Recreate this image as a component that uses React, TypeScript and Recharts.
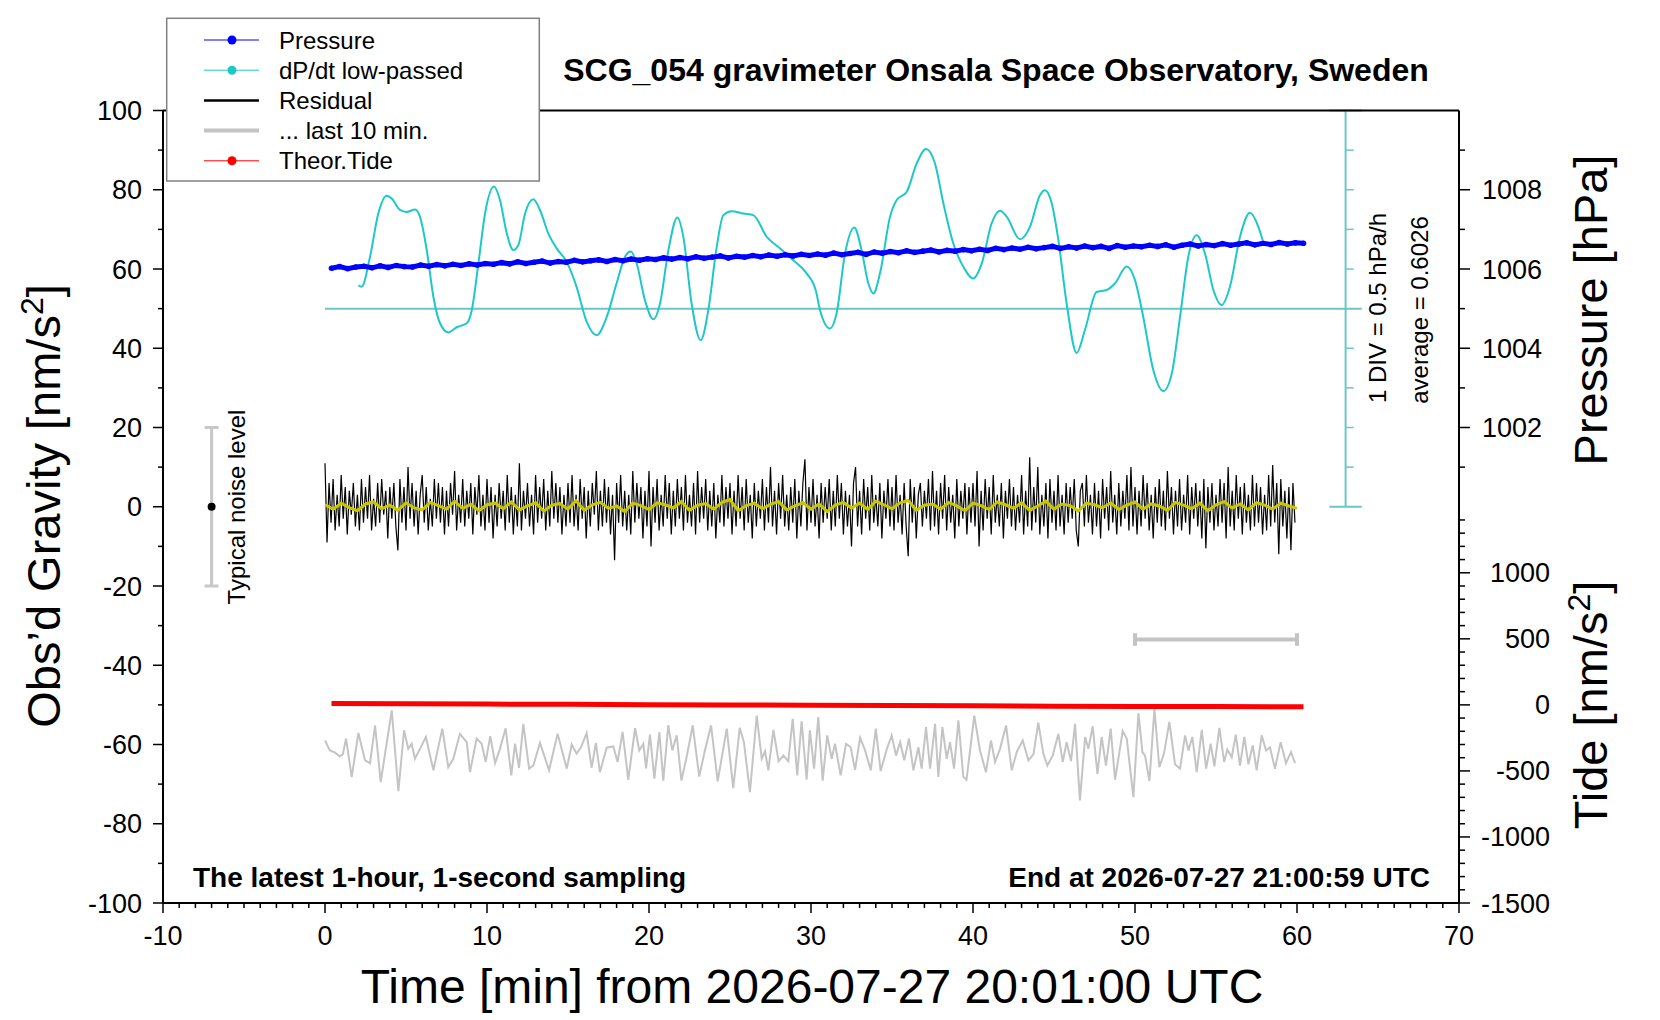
import React from 'react';
import { ComposedChart, Line, XAxis, YAxis, ReferenceLine, ReferenceDot } from 'recharts';

const FONT = '"Liberation Sans", Arial, Helvetica, sans-serif';

// ---------- axis ticks ----------
const xTicks = Array.from({ length: 81 }, (_, i) => i - 10); // every minute, -10..70
const gravityTicks = Array.from({ length: 21 }, (_, i) => -100 + i * 10);
const pressureMajorTicks = [1002, 1004, 1006, 1008];
const pressureMinorTicks = [1001, 1003, 1005, 1007, 1009];
const tideMajorTicks = [-1500, -1000, -500, 0, 500, 1000];
const tideMinorTicks = Array.from({ length: 30 }, (_, i) => -1400 + i * 100).filter((v) => v % 500 !== 0);

// right axis scales mapped onto the gravity axis
const pToG = (p: number) => (p - 1006) * 10 + 60;
const tideToG = (t: number) => -50 + t / 30;

// ---------- series ----------
// Pressure [hPa], every 0.5 min from 0.4 min
const pressureT0 = 0.4;
const pressureHpa = [
  1006.02, 1006.06, 1006.01, 1006.05, 1006.07, 1006.03, 1006.08, 1006.04, 1006.09, 1006.06, 1006.05, 1006.1, 1006.07, 1006.11, 1006.08, 1006.12, 1006.09, 1006.13, 1006.1, 1006.14,
  1006.12, 1006.16, 1006.13, 1006.18, 1006.14, 1006.17, 1006.2, 1006.15, 1006.19, 1006.17, 1006.22, 1006.18, 1006.21, 1006.23, 1006.19, 1006.24, 1006.21, 1006.25, 1006.22, 1006.26,
  1006.24, 1006.28, 1006.25, 1006.29, 1006.26, 1006.31, 1006.27, 1006.3, 1006.33, 1006.28, 1006.32, 1006.3, 1006.34, 1006.31, 1006.35, 1006.32, 1006.36, 1006.33, 1006.37, 1006.34,
  1006.38, 1006.35, 1006.4, 1006.36, 1006.39, 1006.42, 1006.37, 1006.43, 1006.4, 1006.44, 1006.41, 1006.46, 1006.42, 1006.45, 1006.48, 1006.43, 1006.47, 1006.45, 1006.49, 1006.46,
  1006.5, 1006.47, 1006.52, 1006.49, 1006.53, 1006.5, 1006.55, 1006.51, 1006.54, 1006.57, 1006.52, 1006.56, 1006.53, 1006.58, 1006.54, 1006.57, 1006.52, 1006.59, 1006.55, 1006.58,
  1006.56, 1006.6, 1006.57, 1006.61, 1006.55, 1006.6, 1006.63, 1006.58, 1006.62, 1006.59, 1006.64, 1006.6, 1006.63, 1006.66, 1006.61, 1006.65, 1006.62, 1006.67, 1006.63, 1006.66,
  1006.65,
];

// dP/dt low-passed, drawn in gravity units (baseline 50 = average)
const dpdtTime = [
  2.06, 2.26, 2.78, 3.29, 3.81, 4.12, 4.63, 5.04, 5.56, 5.86, 6.28, 6.69, 7.1, 7.61, 8.13, 8.75, 9.06, 9.47, 9.88, 10.43,
  10.8, 11.22, 11.62, 11.93, 12.35, 12.86, 13.27, 13.78, 14.3, 14.92, 15.53, 16.15, 16.77, 17.39, 18.0, 18.52, 18.87, 19.24, 19.75, 20.27,
  20.68, 21.2, 21.75, 22.12, 22.63, 23.19, 23.66, 24.18, 24.59, 25.1, 25.82, 26.44, 27.27, 28.09, 28.91, 29.73, 30.3, 30.56, 31.17, 31.58,
  32.1, 32.67, 33.12, 33.54, 33.85, 34.26, 34.88, 35.29, 35.91, 36.53, 37.1, 37.65, 38.17, 38.78, 39.4, 40.02, 40.54, 41.15, 41.67, 42.08,
  42.9, 43.52, 44.14, 44.44, 44.86, 45.27, 45.78, 46.4, 46.91, 47.63, 48.25, 48.77, 49.49, 50.0, 50.51, 51.13, 51.75, 52.27, 52.78, 53.29,
  53.81, 54.32, 54.84, 55.35, 55.86, 56.48, 57.1, 57.61, 57.88,
];
const dpdtValue = [
  55.9, 55.5, 63.1, 74.0, 78.5, 77.8, 74.9, 74.4, 75.0, 73.2, 64.8, 53.0, 46.3, 44.0, 45.3, 46.3, 49.6, 61.4, 74.0, 80.8,
  77.4, 69.0, 64.8, 66.0, 74.0, 77.6, 74.9, 69.0, 65.2, 61.8, 55.5, 46.7, 43.3, 47.9, 56.4, 63.1, 64.4, 61.4, 52.1, 47.3,
  51.3, 64.8, 73.0, 68.1, 51.3, 42.0, 49.6, 65.6, 73.6, 74.6, 74.0, 73.6, 68.1, 65.2, 62.2, 58.9, 54.5, 49.6, 45.0, 48.8,
  63.9, 70.5, 64.8, 56.4, 53.8, 58.9, 73.2, 77.4, 79.5, 86.7, 90.3, 86.7, 76.6, 66.5, 60.6, 57.6, 61.4, 71.5, 74.7, 73.2,
  67.5, 70.7, 78.7, 79.9, 76.6, 67.3, 51.3, 38.8, 44.6, 54.2, 54.7, 56.4, 60.6, 57.2, 47.9, 34.5, 29.2, 33.6, 47.9, 63.1,
  68.5, 63.9, 54.7, 50.9, 55.5, 68.1, 74.2, 70.7, 67.3,
];

// Residual [nm/s^2], 8 samples per minute from 0
const residualStep = 0.125;
const residual = [
  11, -9, 6, -4, 7, -6, 3, -5, 8, -3, 5, -7, 4, -2, 6, -5, 3, -6, 7, -4,
  5, -3, 8, -6, 2, -5, 6, -4, 7, -2, 4, -8, 5, -3, 6, -5, -11, 7, -4, 5,
  -6, 10, -3, 6, -5, 4, -7, 3, 8, -4, 5, -6, 2, -5, 7, -3, 6, -4, 5, -7,
  4, -5, 6, -2, 9, -6, 3, -4, 7, -5, 4, -3, 6, -7, 5, -2, 8, -5, 3, -6,
  7, -4, 5, -8, 3, -5, 6, -3, 4, -6, 8, -4, 5, -7, 3, -5, 11, -6, 4, -3,
  6, -5, 3, -7, 8, -4, 5, -3, 7, -6, 4, -5, 9, -3, 6, -4, 5, -7, 3, -5,
  6, -4, 8, -5, 3, -6, 7, -3, 5, -8, 4, -5, 6, -2, 9, -6, 4, -5, 7, -4,
  5, -7, 3, -13.5, 6, -4, 8, -5, 4, -6, 3, -7, 9, -4, 6, -3, 5, -8, 4, -5,
  9, -10, 5, -4, 7, -6, 3, -5, 8, -3, 6, -7, 4, -5, 7, -3, 5, -6, 8, -4,
  3, -5, 6, -7, 9, -4, 5, -3, 7, -6, 4, -5, 6, -8, 3, -4, 8, -5, 5, -3,
  6, -7, 4, -5, 8, -3, 5, -6, 7, -4, 3, -8, 6, -5, 4, -3, 7, -6, 5, -4,
  10, -5, 4, -7, 6, -3, 8, -5, 3, -6, 5, -4, 7, -8, 4, -5, 6, 12, -6, 5,
  -4, 7, -5, 3, -8, 6, -4, 5, -3, 7, -6, 4, -5, 8, -3, 6, -7, 4, -5, 3,
  -10, 6, 10, -5, 4, -7, 7, -3, 5, -6, 8, -4, 3, -5, 6, -8, 4, -3, 7, -5,
  5, -6, 8, -4, 3, -7, 6, -5, -12.5, 7, -4, 5, -8, 3, 6, -5, 4, -3, 7, -6,
  9, -5, 4, -7, 6, -3, 8, -6, 5, -4, 3, -8, 7, -5, 4, -3, 6, -7, 5, -4,
  6, -5, 9, -10, 4, -6, 7, -3, 5, -7, 8, -4, 3, -5, 6, -8, 4, -3, 7, -5,
  5, -6, 3, -4, 8, -7, 4, -5, 12.5, -6, 5, -4, 10, -7, 3, -5, 6, -8, 7, -4,
  4, -6, 8, -5, 3, -7, 6, -4, 5, -3, 7, -6, -10, 4, 6, -5, 8, -4, 3, -7,
  6, -5, 4, -8, 7, -3, 5, -6, 9, -4, 3, -7, 6, -5, 4, -3, 8, -6, 10, -5,
  5, -7, 4, -5, 8, -3, 6, -6, 3, -8, 5, -4, 7, -5, 4, -6, 9, -3, 5, -7,
  4, -5, 7, -6, 3, -4, 8, -7, 5, -3, 6, -5, 4, -8, 7, -10.5, 5, -4, 6, -6,
  3, -5, 7, -4, 6, -8, 10, -5, 4, -6, 8, -3, 5, -7, 6, -4, 3, -6, 8, -5,
  6, -4, 5, -7, 3, -6, 8, -5, 10.5, -4, 6, -12, 7, -5, 4, -8, 5, -11, 6, -4,
];

// Smoothed residual (yellow), every 0.5 min
const smoothStep = 0.5;
const residualSmooth = [
  0.5, -0.6, 0.9, -0.2, -1.0, 0.7, 1.2, -0.5, 0.4, -0.9, 1.0, -0.3, -0.8, 1.1, 0.3, -0.6, 1.4, -0.4, 0.6, -1.0,
  0.5, 0.9, -0.5, 1.2, -0.8, 0.2, 1.0, -1.1, 0.4, 0.8, -0.6, 1.5, -0.9, 0.5, 1.1, -0.4, 0.2, -1.2, 0.9, 0.3,
  -0.7, 1.0, 0.5, -0.3, 1.3, -0.9, 0.4, 0.8, -0.6, 1.1, 1.8, -1.0, 0.3, 0.9, -0.5, 0.6, 1.3, -0.8, 0.2, 1.0,
  -0.6, 0.7, -1.2, 0.4, 1.1, -0.3, 0.9, -0.7, 1.4, 0.5, -0.5, 1.0, 1.6, -0.9, 0.4, 0.7, -0.6, 1.1, 0.2, -1.0,
  0.9, 0.3, -0.7, 1.2, 0.5, -0.4, 1.0, -0.9, 0.2, 1.4, -0.6, 0.7, 0.3, -1.1, 0.9, 0.5, -0.3, 1.0, -0.7, 0.4,
  1.2, -0.6, 0.7, 0.2, -0.9, 1.1, 0.4, -0.5, 0.9, -1.0, 0.5, 1.3, -0.3, 0.7, -0.8, 1.0, 0.4, -0.6, 0.9, 0.2,
  -0.4,
];

// Last 10 min trace (grey), shifted below, gravity units
const lastTime = [
  0.0, 0.3, 0.6, 0.9, 1.1, 1.3, 1.65, 2.06, 2.47, 2.78, 3.09, 3.44, 4.12, 4.53, 4.88, 5.14, 5.35, 5.55, 5.86, 6.23,
  6.69, 7.24, 7.61, 7.92, 8.33, 8.75, 8.95, 9.36, 9.67, 9.92, 10.2, 10.5, 10.8, 11.15, 11.5, 11.73, 11.98, 12.24, 12.6, 12.86,
  13.27, 13.83, 14.36, 14.92, 15.23, 15.53, 15.8, 16.15, 16.46, 16.72, 16.97, 17.39, 17.8, 18.06, 18.37, 18.72, 19.14, 19.4, 19.65, 19.82,
  20.06, 20.33, 20.64, 20.88, 21.19, 21.44, 21.71, 22.0, 22.3, 22.7, 23.1, 23.45, 23.83, 24.24, 24.8, 25.2, 25.6, 25.86, 26.23, 26.65,
  26.96, 27.16, 27.37, 27.68, 28.0, 28.3, 28.6, 28.87, 29.15, 29.42, 29.73, 29.93, 30.19, 30.45, 30.72, 31.0, 31.28, 31.48, 31.83, 32.16,
  32.45, 32.72, 33.03, 33.34, 33.69, 34.0, 34.3, 34.67, 34.98, 35.25, 35.5, 35.76, 36.05, 36.32, 36.63, 36.83, 37.1, 37.35, 37.66, 37.86,
  38.11, 38.38, 38.58, 38.83, 39.1, 39.4, 39.6, 40.08, 40.43, 40.8, 41.11, 41.36, 41.67, 42.04, 42.39, 42.7, 43.07, 43.42, 43.73, 44.03,
  44.34, 44.59, 44.92, 45.27, 45.54, 45.78, 46.05, 46.3, 46.6, 46.92, 47.12, 47.39, 47.68, 47.94, 48.21, 48.5, 48.77, 49.24, 49.49, 49.9,
  50.21, 50.46, 50.62, 50.89, 51.2, 51.5, 51.79, 52.12, 52.47, 52.78, 53.09, 53.3, 53.54, 53.81, 54.12, 54.39, 54.67, 54.9, 55.21, 55.5,
  55.7, 55.97, 56.22, 56.48, 56.75, 57.0, 57.27, 57.51, 57.82, 58.09, 58.33, 58.64, 58.99, 59.32, 59.63, 59.88,
];
const lastValue = [
  -59.0, -61.5, -62.0, -63.0, -62.5, -58.5, -68.2, -57.1, -64.0, -64.7, -55.2, -69.5, -51.4, -71.8, -56.4, -61.1, -59.8, -63.6, -61.1, -58.1,
  -66.5, -56.0, -65.7, -63.6, -57.3, -59.4, -67.0, -58.5, -59.8, -64.4, -57.9, -64.7, -61.1, -55.9, -67.8, -59.8, -65.9, -54.8, -66.1, -65.3,
  -59.6, -66.5, -57.3, -66.1, -60.0, -62.3, -60.7, -57.1, -65.9, -59.6, -67.0, -60.8, -60.5, -64.4, -56.8, -68.9, -55.9, -61.5, -59.8, -66.0,
  -57.5, -68.6, -56.9, -69.1, -55.1, -61.5, -57.7, -69.1, -63.6, -55.2, -68.1, -61.5, -55.2, -69.3, -56.0, -71.0, -55.8, -59.4, -72.0, -52.7,
  -63.6, -61.7, -66.5, -56.3, -64.2, -62.8, -64.2, -53.5, -67.8, -54.1, -68.9, -56.4, -66.1, -53.1, -69.1, -57.7, -63.6, -59.8, -67.8, -59.8,
  -60.7, -66.4, -58.3, -61.5, -66.5, -56.0, -66.7, -61.3, -57.7, -62.8, -59.4, -64.0, -58.5, -66.5, -60.7, -66.1, -55.6, -66.1, -54.8, -68.2,
  -55.6, -63.6, -59.4, -66.1, -53.9, -68.1, -68.9, -52.7, -61.5, -67.0, -59.0, -64.4, -61.1, -55.2, -66.5, -61.9, -59.0, -64.0, -62.5, -54.5,
  -62.3, -65.3, -62.8, -57.3, -64.4, -59.4, -64.2, -54.8, -74.1, -58.1, -61.1, -55.4, -67.4, -58.1, -65.3, -56.0, -68.9, -56.6, -58.5, -73.3,
  -52.1, -61.9, -62.8, -69.2, -51.0, -65.7, -62.3, -54.3, -65.0, -66.1, -57.7, -61.5, -58.1, -67.0, -56.3, -66.1, -59.8, -65.5, -55.8, -64.4,
  -61.3, -63.2, -57.5, -65.3, -58.1, -65.0, -60.2, -66.5, -57.7, -61.5, -60.7, -66.1, -59.4, -64.7, -61.9, -64.7,
];

// Theoretical tide [nm/s^2]
const tideTime = [0.4, 5, 10, 15, 20, 25, 30, 35, 40, 45, 50, 55, 60.4];
const tideValue = [10, 8, 6, 4, 1.5, -1, -3, -5, -7.5, -9.5, -11.5, -13, -15];

// Annotation marks (gravity units / minutes)
const noiseBar = { t: -7, low: -20, high: 20 };
const dpdtScale = { t: 63, low: 0, high: 100, base: 50, baseFrom: 0 };
const dpdtScaleTicks = [10, 20, 30, 40, 60, 70, 80, 90];
const last10Bar = { from: 50, to: 60, level: -33.5 };

const pressureData = pressureHpa.map((v, i) => ({ t: pressureT0 + i * 0.5, v }));
const dpdtData = dpdtTime.map((t, i) => ({ t, v: dpdtValue[i] }));
const residualData = residual.map((v, i) => ({ t: i * residualStep, v }));
const smoothData = residualSmooth.map((v, i) => ({ t: i * smoothStep, v }));
const lastData = lastTime.map((t, i) => ({ t, v: lastValue[i] }));
const tideData = tideTime.map((t, i) => ({ t, v: tideValue[i] }));

type RightTick = { g: number; label: string; major: boolean; kind: 'p' | 't' };
const rightTickInfo: RightTick[] = [
  ...pressureMajorTicks.map((p) => ({ g: pToG(p), label: String(p), major: true, kind: 'p' as const })),
  ...pressureMinorTicks.map((p) => ({ g: pToG(p), label: '', major: false, kind: 'p' as const })),
  ...tideMajorTicks.map((t) => ({ g: tideToG(t), label: String(t), major: true, kind: 't' as const })),
  ...tideMinorTicks.map((t) => ({ g: tideToG(t), label: '', major: false, kind: 't' as const })),
];
const rightTicks = rightTickInfo.map((r) => r.g);

const txt = { fontFamily: FONT, fill: '#000' };

const BottomTick = (props: any) => {
  const { x, y, payload } = props;
  const v = payload.value;
  const major = Math.abs(v % 10) < 1e-9;
  return (
    <g>
      <line x1={x} x2={x} y1={y} y2={y + (major ? 10 : 5)} stroke="#000" strokeWidth={1.5} />
      {major && (
        <text x={x} y={y + 42} textAnchor="middle" fontSize={27} {...txt}>
          {v}
        </text>
      )}
    </g>
  );
};

const TopTick = (props: any) => {
  const { x, y, payload } = props;
  const major = Math.abs(payload.value % 10) < 1e-9;
  return <line x1={x} x2={x} y1={y} y2={y - (major ? 10 : 5)} stroke="#000" strokeWidth={1.5} />;
};

const LeftTick = (props: any) => {
  const { x, y, payload } = props;
  const v = payload.value;
  const major = Math.abs(v % 20) < 1e-9;
  return (
    <g>
      <line x1={x} x2={x - (major ? 10 : 5)} y1={y} y2={y} stroke="#000" strokeWidth={1.5} />
      {major && (
        <text x={x - 21} y={y + 9.5} textAnchor="end" fontSize={27} {...txt}>
          {v}
        </text>
      )}
    </g>
  );
};

const RightTickMark = (props: any) => {
  const { x, y, payload } = props;
  const info = rightTickInfo.find((r) => Math.abs(r.g - payload.value) < 1e-6);
  if (!info) return <g />;
  return (
    <g>
      <line x1={x} x2={x + (info.major ? 11 : 6)} y1={y} y2={y} stroke="#000" strokeWidth={1.5} />
      {info.major && (
        <text x={x + (info.kind === 'p' ? 83 : 91)} y={y + 9.5} textAnchor="end" fontSize={27} {...txt}>
          {info.label}
        </text>
      )}
    </g>
  );
};

const legendRows = [
  { label: 'Pressure', color: '#0000ff', width: 1, dot: true },
  { label: 'dP/dt low-passed', color: '#1ec8c8', width: 1, dot: true },
  { label: 'Residual', color: '#000000', width: 2.5, dot: false },
  { label: '... last 10 min.', color: '#c4c4c4', width: 4, dot: false },
  { label: 'Theor.Tide', color: '#ff0000', width: 1, dot: true },
];

const CYAN = '#1ec8c8';
const CYAN_SCALE = '#6cc6c6';

export default function App() {
  return (
    <div style={{ position: 'absolute', left: 0, top: 0, width: 1660, height: 1020, background: '#fff' }}>
      <ComposedChart width={1660} height={1020} margin={{ top: 90.5, right: 81, bottom: 57, left: 83 }}>
        <XAxis
          dataKey="t"
          type="number"
          domain={[-10, 70]}
          ticks={xTicks}
          interval={0}
          tickSize={0}
          tickMargin={0}
          tickLine={false}
          tick={<BottomTick />}
          height={60}
          axisLine={{ stroke: '#000', strokeWidth: 2 }}
          allowDataOverflow
        />
        <XAxis
          xAxisId="top"
          orientation="top"
          type="number"
          domain={[-10, 70]}
          ticks={xTicks}
          interval={0}
          tickSize={0}
          tickMargin={0}
          tickLine={false}
          tick={<TopTick />}
          height={20}
          axisLine={{ stroke: '#000', strokeWidth: 2 }}
          allowDataOverflow
        />
        <YAxis
          type="number"
          domain={[-100, 100]}
          ticks={gravityTicks}
          interval={0}
          tickSize={0}
          tickMargin={0}
          tickLine={false}
          tick={<LeftTick />}
          width={80}
          axisLine={{ stroke: '#000', strokeWidth: 2 }}
          allowDataOverflow
        />
        <YAxis
          yAxisId="r"
          orientation="right"
          type="number"
          domain={[-100, 100]}
          ticks={rightTicks}
          interval={0}
          tickSize={0}
          tickMargin={0}
          tickLine={false}
          tick={<RightTickMark />}
          width={120}
          axisLine={{ stroke: '#000', strokeWidth: 2 }}
          allowDataOverflow
        />
        <YAxis yAxisId="p" hide type="number" domain={[990, 1010]} allowDataOverflow />
        <YAxis yAxisId="tide" hide type="number" domain={[-1500, 4500]} allowDataOverflow />

        {/* dP/dt scale bar and baseline */}
        <ReferenceLine segment={[{ x: dpdtScale.baseFrom, y: dpdtScale.base }, { x: dpdtScale.t + 1, y: dpdtScale.base }]} stroke={CYAN_SCALE} strokeWidth={2} ifOverflow="visible" />
        <ReferenceLine segment={[{ x: dpdtScale.t, y: dpdtScale.low }, { x: dpdtScale.t, y: dpdtScale.high }]} stroke={CYAN_SCALE} strokeWidth={2} ifOverflow="visible" />
        <ReferenceLine segment={[{ x: dpdtScale.t - 1, y: dpdtScale.low }, { x: dpdtScale.t + 1, y: dpdtScale.low }]} stroke={CYAN_SCALE} strokeWidth={2} ifOverflow="visible" />
        <ReferenceLine segment={[{ x: dpdtScale.t - 1, y: dpdtScale.high }, { x: dpdtScale.t + 1, y: dpdtScale.high }]} stroke={CYAN_SCALE} strokeWidth={2} ifOverflow="visible" />
        {dpdtScaleTicks.map((g) => (
          <ReferenceLine key={g} segment={[{ x: dpdtScale.t, y: g }, { x: dpdtScale.t + 0.5, y: g }]} stroke={CYAN_SCALE} strokeWidth={1.5} ifOverflow="visible" />
        ))}

        {/* typical noise level */}
        <ReferenceLine segment={[{ x: noiseBar.t, y: noiseBar.low }, { x: noiseBar.t, y: noiseBar.high }]} stroke="#c8c8c8" strokeWidth={3} ifOverflow="visible" />
        <ReferenceLine segment={[{ x: noiseBar.t - 0.43, y: noiseBar.low }, { x: noiseBar.t + 0.43, y: noiseBar.low }]} stroke="#c8c8c8" strokeWidth={3} ifOverflow="visible" />
        <ReferenceLine segment={[{ x: noiseBar.t - 0.43, y: noiseBar.high }, { x: noiseBar.t + 0.43, y: noiseBar.high }]} stroke="#c8c8c8" strokeWidth={3} ifOverflow="visible" />
        <ReferenceDot x={noiseBar.t} y={0} r={4} fill="#000" stroke="none" ifOverflow="visible" />

        {/* last 10 min bar */}
        <ReferenceLine segment={[{ x: last10Bar.from, y: last10Bar.level }, { x: last10Bar.to, y: last10Bar.level }]} stroke="#c4c4c4" strokeWidth={4} ifOverflow="visible" />
        <ReferenceLine segment={[{ x: last10Bar.from, y: last10Bar.level - 1.6 }, { x: last10Bar.from, y: last10Bar.level + 1.6 }]} stroke="#c4c4c4" strokeWidth={4} ifOverflow="visible" />
        <ReferenceLine segment={[{ x: last10Bar.to, y: last10Bar.level - 1.6 }, { x: last10Bar.to, y: last10Bar.level + 1.6 }]} stroke="#c4c4c4" strokeWidth={4} ifOverflow="visible" />

        <Line data={lastData} dataKey="v" type="linear" stroke="#c4c4c4" strokeWidth={2} dot={false} isAnimationActive={false} />
        <Line data={tideData} dataKey="v" yAxisId="tide" type="linear" stroke="#ff0000" strokeWidth={5} dot={false} isAnimationActive={false} />
        <Line data={residualData} dataKey="v" type="linear" stroke="#000" strokeWidth={1.2} dot={false} isAnimationActive={false} />
        <Line data={smoothData} dataKey="v" type="linear" stroke="#c8c800" strokeWidth={3} dot={false} isAnimationActive={false} />
        <Line data={dpdtData} dataKey="v" type="monotone" stroke={CYAN} strokeWidth={2} dot={false} isAnimationActive={false} />
        <Line
          data={pressureData}
          dataKey="v"
          yAxisId="p"
          type="linear"
          stroke="#0000ff"
          strokeWidth={5}
          dot={{ r: 2.8, fill: '#0000ff', stroke: 'none' }}
          isAnimationActive={false}
        />
      </ComposedChart>

      <svg width={1660} height={1020} style={{ position: 'absolute', left: 0, top: 0, pointerEvents: 'none' }}>
        <text x={996} y={81} textAnchor="middle" fontSize={32} fontWeight="bold" {...txt}>
          SCG_054 gravimeter Onsala Space Observatory, Sweden
        </text>

        <rect x={166.7} y={18.3} width={372.6} height={162.7} fill="#fff" stroke="#808080" strokeWidth={1.5} />
        {legendRows.map((r, i) => {
          const cy = 40 + i * 30.2;
          return (
            <g key={r.label}>
              <line x1={204} x2={259} y1={cy} y2={cy} stroke={r.color} strokeWidth={r.width} />
              {r.dot && <circle cx={232} cy={cy} r={4.5} fill={r.color} />}
              <text x={279} y={cy + 8.5} fontSize={24} {...txt}>
                {r.label}
              </text>
            </g>
          );
        })}

        <text transform="translate(60,506) rotate(-90)" textAnchor="middle" fontSize={47} {...txt}>
          Obs’d Gravity [nm/s<tspan dy={-17} fontSize={32}>2</tspan>
          <tspan dy={17}>]</tspan>
        </text>
        <text transform="translate(1607,310) rotate(-90)" textAnchor="middle" fontSize={47} {...txt}>
          Pressure [hPa]
        </text>
        <text transform="translate(1607,705) rotate(-90)" textAnchor="middle" fontSize={47} {...txt}>
          Tide [nm/s<tspan dy={-17} fontSize={32}>2</tspan>
          <tspan dy={17}>]</tspan>
        </text>
        <text x={812} y={1003} textAnchor="middle" fontSize={48} {...txt}>
          Time [min] from 2026-07-27 20:01:00 UTC
        </text>

        <text transform="translate(245,507) rotate(-90)" textAnchor="middle" fontSize={24} {...txt}>
          Typical noise level
        </text>
        <text transform="translate(1386,308) rotate(-90)" textAnchor="middle" fontSize={24} {...txt}>
          1 DIV = 0.5 hPa/h
        </text>
        <text transform="translate(1428,310) rotate(-90)" textAnchor="middle" fontSize={24} {...txt}>
          average = 0.6026
        </text>

        <text x={193} y={887} fontSize={28} fontWeight="bold" {...txt}>
          The latest 1-hour, 1-second sampling
        </text>
        <text x={1430} y={887} textAnchor="end" fontSize={28} fontWeight="bold" {...txt}>
          End at 2026-07-27 21:00:59 UTC
        </text>
      </svg>
    </div>
  );
}
